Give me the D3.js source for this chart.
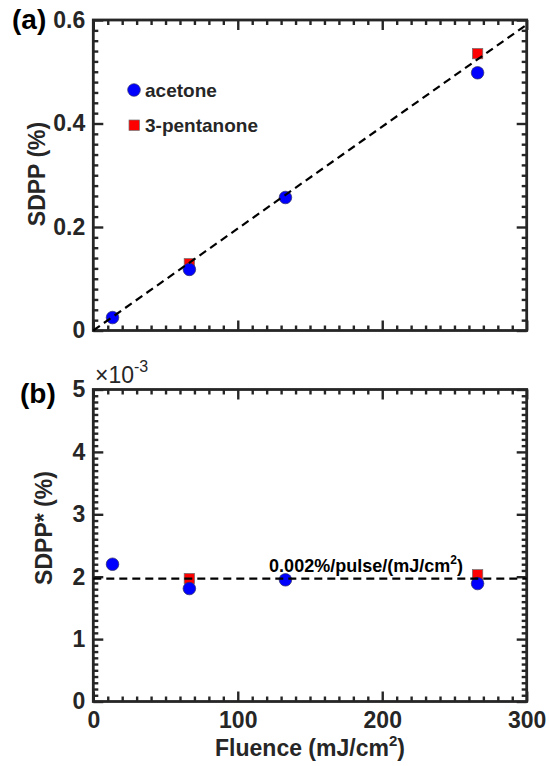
<!DOCTYPE html>
<html>
<head>
<meta charset="utf-8">
<script src="https://cdn.jsdelivr.net/npm/d3@7"></script>
<style>
body { margin: 0; background: #fff; }
text { font-family: "Liberation Sans", Arial, sans-serif; fill: #262626; }
</style>
</head>
<body>
<svg id="chart" width="549" height="766"></svg>
<script>
// fluence in mJ/cm2
const fluence = [13.3, 66.5, 133, 266];
const acetoneSDPP = [0.025, 0.118, 0.257, 0.498];
const pentanoneFluence = [66.5, 266];
const pentanoneSDPP = [0.129, 0.535];
// SDPP per fluence, x1e-3
const acetoneNorm = [2.20, 1.81, 1.95, 1.89];
const pentanoneNorm = [1.97, 2.03];
const fitSlope = 1.97; // x1e-3 %/pulse/(mJ/cm2)
const xTicks = [0, 100, 200, 300];
const yTicksA = [0, 0.2, 0.4, 0.6];
const yTicksB = [0, 1, 2, 3, 4, 5];

const svg = d3.select("#chart");
const left = 93.3, right = 526.7;
const axisColor = "#262626";

const x = d3.scaleLinear().domain([0, 300]).range([left, right]);
const yA = d3.scaleLinear().domain([0, 0.6]).range([330.5, 20]);
const yB = d3.scaleLinear().domain([0, 5]).range([701.5, 389.5]);

function drawFrame(y, majorY, minorStep, fmt) {
    const g = svg.append("g");
    const top = y.range()[1], bottom = y.range()[0];
    const minorX = d3.range(0, 301, 10).filter(v => v % 100 !== 0);
    const minorY = d3.range(0, y.domain()[1] + 1e-9, minorStep)
        .filter(v => !majorY.some(m => Math.abs(m - v) < 1e-9));

    // minor ticks on all four sides, pointing inward
    g.append("g").attr("transform", `translate(0,${bottom})`)
        .call(d3.axisBottom(x).tickValues(minorX).tickSize(-5).tickFormat(""));
    g.append("g").attr("transform", `translate(0,${top})`)
        .call(d3.axisTop(x).tickValues(minorX).tickSize(-5).tickFormat(""));
    g.append("g").attr("transform", `translate(${left},0)`)
        .call(d3.axisLeft(y).tickValues(minorY).tickSize(-5).tickFormat(""));
    g.append("g").attr("transform", `translate(${right},0)`)
        .call(d3.axisRight(y).tickValues(minorY).tickSize(-5).tickFormat(""));

    // major ticks
    g.append("g").attr("class", "xlab").attr("transform", `translate(0,${bottom})`)
        .call(d3.axisBottom(x).tickValues(xTicks).tickSizeInner(-10).tickSizeOuter(0).tickPadding(10));
    g.append("g").attr("transform", `translate(0,${top})`)
        .call(d3.axisTop(x).tickValues(xTicks).tickSize(-10).tickFormat(""));
    g.append("g").attr("class", "ylab").attr("transform", `translate(${left},0)`)
        .call(d3.axisLeft(y).tickValues(majorY).tickSizeInner(-10).tickSizeOuter(0).tickPadding(8).tickFormat(fmt));
    g.append("g").attr("transform", `translate(${right},0)`)
        .call(d3.axisRight(y).tickValues(majorY).tickSize(-10).tickFormat(""));

    g.selectAll(".domain").remove();
    g.selectAll(".tick line").attr("stroke", axisColor).attr("stroke-width", 2.4);
    g.selectAll(".tick text")
        .style("font-size", "23px").style("font-weight", "bold").style("fill", axisColor);

    g.append("rect")
        .attr("x", left).attr("y", top)
        .attr("width", right - left).attr("height", bottom - top)
        .attr("fill", "none").attr("stroke", axisColor).attr("stroke-width", 2.8);
    return g;
}

function circles(xs, ys, y) {
    svg.append("g").selectAll("circle").data(xs).join("circle")
        .attr("cx", d => x(d)).attr("cy", (d, i) => y(ys[i])).attr("r", 6.3)
        .attr("fill", "#0000ff").attr("stroke", "#303060").attr("stroke-width", 0.7);
}
function squares(xs, ys, y) {
    svg.append("g").selectAll("rect").data(xs).join("rect")
        .attr("x", d => x(d) - 5.2).attr("y", (d, i) => y(ys[i]) - 5.2)
        .attr("width", 10.4).attr("height", 10.4)
        .attr("fill", "#ff0000").attr("stroke", "#707070").attr("stroke-width", 0.7);
}
function dashed(pts, y) {
    svg.append("path")
        .attr("d", d3.line().x(d => x(d[0])).y(d => y(d[1]))(pts))
        .attr("fill", "none").attr("stroke", "#000").attr("stroke-width", 2.2)
        .attr("stroke-dasharray", "8,5");
}

// ---- panel (a)
const fa = drawFrame(yA, yTicksA, 0.02, d => d === 0 ? "0" : d3.format(".1f")(d));
fa.select(".xlab").selectAll(".tick text").remove();
squares(pentanoneFluence, pentanoneSDPP, yA);
circles(fluence, acetoneSDPP, yA);
dashed([[0, 0], [300, fitSlope * 300 / 1000]], yA);

// legend
svg.append("circle").attr("cx", 134).attr("cy", 90).attr("r", 6.3)
    .attr("fill", "#0000ff").attr("stroke", "#303060").attr("stroke-width", 0.7);
svg.append("text").attr("x", 145).attr("y", 97).attr("font-size", 19)
    .attr("font-weight", "bold").text("acetone");
svg.append("rect").attr("x", 129).attr("y", 120).attr("width", 10.4).attr("height", 10.4)
    .attr("fill", "#ff0000").attr("stroke", "#707070").attr("stroke-width", 0.7);
svg.append("text").attr("x", 145).attr("y", 132).attr("font-size", 19)
    .attr("font-weight", "bold").text("3-pentanone");

svg.append("text").attr("x", 12).attr("y", 29).attr("font-size", 28)
    .attr("font-weight", "bold").style("fill", "#000").text("(a)");
svg.append("text").attr("transform", "translate(45,174) rotate(-90)")
    .attr("text-anchor", "middle").attr("font-size", 23).attr("font-weight", "bold")
    .text("SDPP (%)");

// ---- panel (b)
drawFrame(yB, yTicksB, 0.1, d3.format("d"));
squares(pentanoneFluence, pentanoneNorm, yB);
circles(fluence, acetoneNorm, yB);
dashed([[0, fitSlope], [300, fitSlope]], yB);

const ann = svg.append("text").attr("x", 366).attr("y", 572).attr("text-anchor", "middle")
    .attr("font-size", 18).attr("font-weight", "bold").style("fill", "#000");
ann.append("tspan").text("0.002%/pulse/(mJ/cm");
ann.append("tspan").attr("dy", -8).attr("font-size", 12).text("2");
ann.append("tspan").attr("dy", 8).text(")");

const expo = svg.append("text").attr("x", 95).attr("y", 383).attr("font-size", 23);
expo.append("tspan").text("\u00d710");
expo.append("tspan").attr("dy", -11).attr("font-size", 16).text("-3");

svg.append("text").attr("x", 20).attr("y", 403).attr("font-size", 28)
    .attr("font-weight", "bold").style("fill", "#000").text("(b)");
svg.append("text").attr("transform", "translate(52,528) rotate(-90)")
    .attr("text-anchor", "middle").attr("font-size", 23).attr("font-weight", "bold")
    .text("SDPP* (%)");

const xl = svg.append("text").attr("x", 310).attr("y", 756).attr("text-anchor", "middle")
    .attr("font-size", 23).attr("font-weight", "bold");
xl.append("tspan").text("Fluence (mJ/cm");
xl.append("tspan").attr("dy", -10).attr("font-size", 15).text("2");
xl.append("tspan").attr("dy", 10).text(")");
</script>
</body>
</html>
